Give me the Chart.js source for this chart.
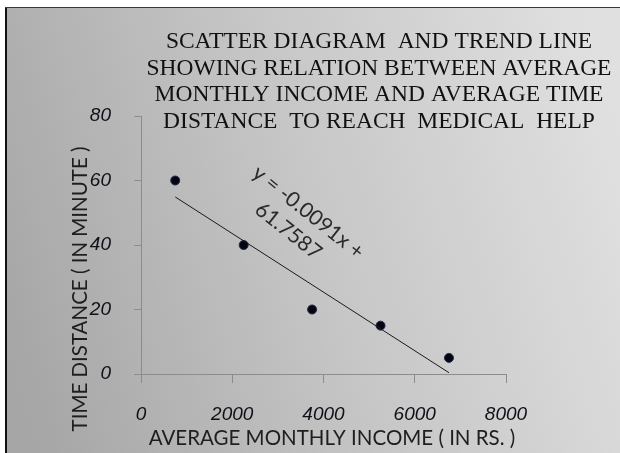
<!DOCTYPE html>
<html>
<head>
<meta charset="utf-8">
<script src="https://cdn.jsdelivr.net/npm/chart.js@4.4.1/dist/chart.umd.min.js"></script>
<style>
  html, body { margin: 0; padding: 0; background: #ffffff; }
  #wrap { position: relative; width: 620px; height: 453px; }
</style>
</head>
<body>
<div id="wrap"><canvas id="c" width="620" height="453"></canvas></div>
<script>
// ---- data ----
const incomeValues = [750, 2250, 3750, 5250, 6750];
const timeValues = [60, 40, 20, 15, 5];
const trendIncome = [750, 6750];
const trendTime = [54.9, 0.4];
const xTicks = [0, 2000, 4000, 6000, 8000];
const yTicks = [0, 20, 40, 60, 80];
const titleLines = [
  'SCATTER DIAGRAM  AND TREND LINE',
  'SHOWING RELATION BETWEEN AVERAGE',
  'MONTHLY INCOME AND AVERAGE TIME',
  'DISTANCE  TO REACH  MEDICAL  HELP'
];
const xTitle = 'AVERAGE MONTHLY INCOME ( IN RS. )';
const yTitle = 'TIME DISTANCE ( IN MINUTE )';
const trendLabel = ['y = -0.0091x +', '61.7587'];

const points = incomeValues.map((x, i) => ({ x: x, y: timeValues[i] }));
const trend = trendIncome.map((x, i) => ({ x: x, y: trendTime[i] }));

const decor = {
  id: 'decor',
  beforeDraw(chart) {
    const ctx = chart.ctx;
    ctx.save();
    ctx.fillStyle = '#ffffff';
    ctx.fillRect(0, 0, 620, 453);
    const g = ctx.createLinearGradient(0, 320, 620, 130);
    g.addColorStop(0, '#a6a6a6');
    g.addColorStop(0.5, '#c6c6c6');
    g.addColorStop(1, '#e0e0e0');
    ctx.fillStyle = g;
    ctx.fillRect(6, 7, 614, 446);
    ctx.fillStyle = '#111111';
    ctx.fillRect(5, 7, 2, 446);
    ctx.fillStyle = '#3a3a3a';
    ctx.fillRect(5, 7, 615, 1);
    ctx.restore();
  },
  afterDraw(chart) {
    const ctx = chart.ctx;
    ctx.save();
    // chart title
    ctx.fillStyle = '#111111';
    ctx.font = '23.5px "Liberation Serif", "Times New Roman", serif';
    ctx.textAlign = 'center';
    ctx.textBaseline = 'middle';
    titleLines.forEach((t, i) => ctx.fillText(t, 379, 42 + i * 26.5));
    // axis titles
    ctx.fillStyle = '#1e1e1e';
    ctx.font = '20.5px Lato, "Open Sans", sans-serif';
    ctx.fillText(xTitle, 332, 438);
    ctx.save();
    ctx.translate(80, 289);
    ctx.rotate(-Math.PI / 2);
    ctx.fillText(yTitle, 0, 0);
    ctx.restore();
    // trend line equation
    ctx.save();
    ctx.translate(298, 222);
    ctx.rotate(38.5 * Math.PI / 180);
    ctx.fillStyle = '#2a2a2a';
    ctx.font = '21px Lato, "Open Sans", sans-serif';
    ctx.fillText(trendLabel[0], 2, -14);
    ctx.fillText(trendLabel[1], -2, 13);
    ctx.restore();
    ctx.restore();
  }
};

const tickFont = { family: '"Liberation Sans", Arial, sans-serif', style: 'italic', size: 19 };

new Chart(document.getElementById('c'), {
  type: 'scatter',
  data: {
    datasets: [
      {
        label: 'Trend',
        data: trend,
        showLine: true,
        borderColor: '#1a1a1a',
        borderWidth: 1,
        pointRadius: 0,
        fill: false
      },
      {
        label: 'Points',
        data: points,
        pointRadius: 4.5,
        pointBackgroundColor: '#05050f',
        pointBorderColor: '#1d2b50',
        pointBorderWidth: 1
      }
    ]
  },
  options: {
    responsive: false,
    animation: false,
    devicePixelRatio: 1,
    layout: { padding: { left: 0, top: 116, right: 114, bottom: 0 } },
    plugins: {
      legend: { display: false },
      tooltip: { enabled: false },
      title: { display: false }
    },
    scales: {
      x: {
        type: 'linear',
        min: xTicks[0],
        max: xTicks[xTicks.length - 1],
        afterBuildTicks(scale) { scale.ticks = xTicks.map(v => ({ value: v })); },
        afterFit(scale) { scale.height = 79; },
        grid: { drawOnChartArea: false, drawTicks: true, tickLength: 9, color: '#8c8c8c', lineWidth: 1 },
        border: { display: true, color: '#8c8c8c', width: 1 },
        ticks: {
          padding: 20,
          color: '#101018',
          font: tickFont,
          maxRotation: 0,
          callback: (v) => String(v)
        }
      },
      y: {
        type: 'linear',
        min: yTicks[0],
        max: yTicks[yTicks.length - 1],
        afterBuildTicks(scale) { scale.ticks = yTicks.map(v => ({ value: v })); },
        afterFit(scale) { scale.width = 141; },
        grid: { drawOnChartArea: false, drawTicks: true, tickLength: 7, color: '#8c8c8c', lineWidth: 1 },
        border: { display: true, color: '#8c8c8c', width: 1 },
        ticks: {
          padding: 23,
          color: '#101018',
          font: tickFont,
          callback: (v) => String(v)
        }
      }
    }
  },
  plugins: [decor]
});
</script>
</body>
</html>
